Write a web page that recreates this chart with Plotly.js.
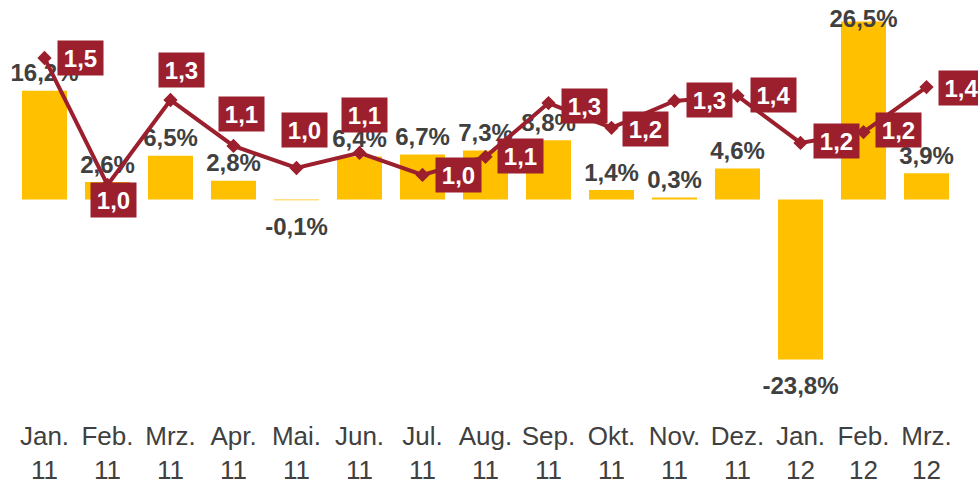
<!DOCTYPE html>
<html><head><meta charset="utf-8">
<script src="https://cdn.plot.ly/plotly-3.0.1.min.js"></script>
<style>html,body{margin:0;padding:0;background:#fff}</style>
</head><body><div id="chart" style="width:978px;height:484px"></div>
<script>
const categories = ['Jan.<br>11','Feb.<br>11','Mrz.<br>11','Apr.<br>11','Mai.<br>11','Jun.<br>11','Jul.<br>11','Aug.<br>11','Sep.<br>11','Okt.<br>11','Nov.<br>11','Dez.<br>11','Jan.<br>12','Feb.<br>12','Mrz.<br>12'];
const growthPct = [16.2, 2.6, 6.5, 2.8, -0.1, 6.4, 6.7, 7.3, 8.8, 1.4, 0.3, 4.6, -23.8, 26.5, 3.9];
const ratio = [1.522, 0.975, 1.341, 1.143, 1.048, 1.113, 1.018, 1.096, 1.328, 1.221, 1.337, 1.359, 1.156, 1.203, 1.397];

// label placement (pixels relative to the marker)
const ratioLabelDx = [36, 5.5, 10.5, 7.5, 8, 4.5, 35.5, 35, 36, 34, 34.5, 35.5, 35.5, 34.5, 35];
const ratioLabelDy = [0, 15, -30.5, -31.5, -38, -37.5, 0.5, -1, 3, 1, -1, -1, -2, -2.5, 1];

const RED = '#9B1F2D';
const YELLOW = '#FFC000';
const TEXT = '#404040';
const FONT = 'Liberation Sans, Arial, sans-serif';

const fmt = v => v.toFixed(1).replace('.', ',');
const growthLabels = growthPct.map(v => '<b>' + fmt(v) + '%</b>');
const ratioLabels = ratio.map(v => '<b>' + fmt(v) + '</b>');
const maxGrowth = Math.max(...growthPct);

const barTrace = {
  type: 'bar', x: categories, y: growthPct,
  marker: {color: YELLOW}, hoverinfo: 'none'
};
const barText = {
  type: 'scatter', mode: 'markers+text', x: categories, y: growthPct,
  text: growthLabels, cliponaxis: false,
  textposition: growthPct.map(v => v === maxGrowth ? 'middle center' : (v >= 0 ? 'top center' : 'bottom center')),
  marker: {size: growthPct.map(v => v >= 0 ? 4 : 25), opacity: 0},
  textfont: {family: FONT, size: 24, color: TEXT},
  hoverinfo: 'none'
};
const lineTrace = {
  type: 'scatter', mode: 'lines+markers', x: categories, y: ratio, yaxis: 'y2',
  line: {color: RED, width: 4}, cliponaxis: false,
  marker: {symbol: 'diamond', size: 11, color: RED},
  hoverinfo: 'none'
};

const annotations = ratio.map((v, i) => ({
  x: i, y: v, xref: 'x', yref: 'y2', showarrow: false,
  text: ratioLabels[i], xshift: ratioLabelDx[i], yshift: -ratioLabelDy[i],
  xanchor: 'center', yanchor: 'middle',
  bgcolor: RED, width: 45, height: 34, borderpad: 0,
  font: {family: FONT, size: 24, color: '#FFFFFF'}
}));

const layout = {
  width: 978, height: 484,
  margin: {l: 13, r: 20, t: 10, b: 84},
  paper_bgcolor: '#FFFFFF', plot_bgcolor: '#FFFFFF',
  showlegend: false,
  bargap: 0.286,
  xaxis: {
    type: 'category', range: [-0.5, categories.length - 0.5],
    showline: false, ticks: '', showgrid: false, automargin: false,
    ticklabelstandoff: 18,
    tickfont: {family: FONT, size: 26, color: TEXT}
  },
  yaxis: {range: [-29.84, 28.2], visible: false, showgrid: false, zeroline: false, automargin: false},
  yaxis2: {range: [0.048, 1.729], overlaying: 'y', visible: false, showgrid: false, zeroline: false, automargin: false},
  annotations: annotations
};

Plotly.newPlot('chart', [barTrace, barText, lineTrace], layout, {staticPlot: true, displayModeBar: false});
</script>
</body></html>
